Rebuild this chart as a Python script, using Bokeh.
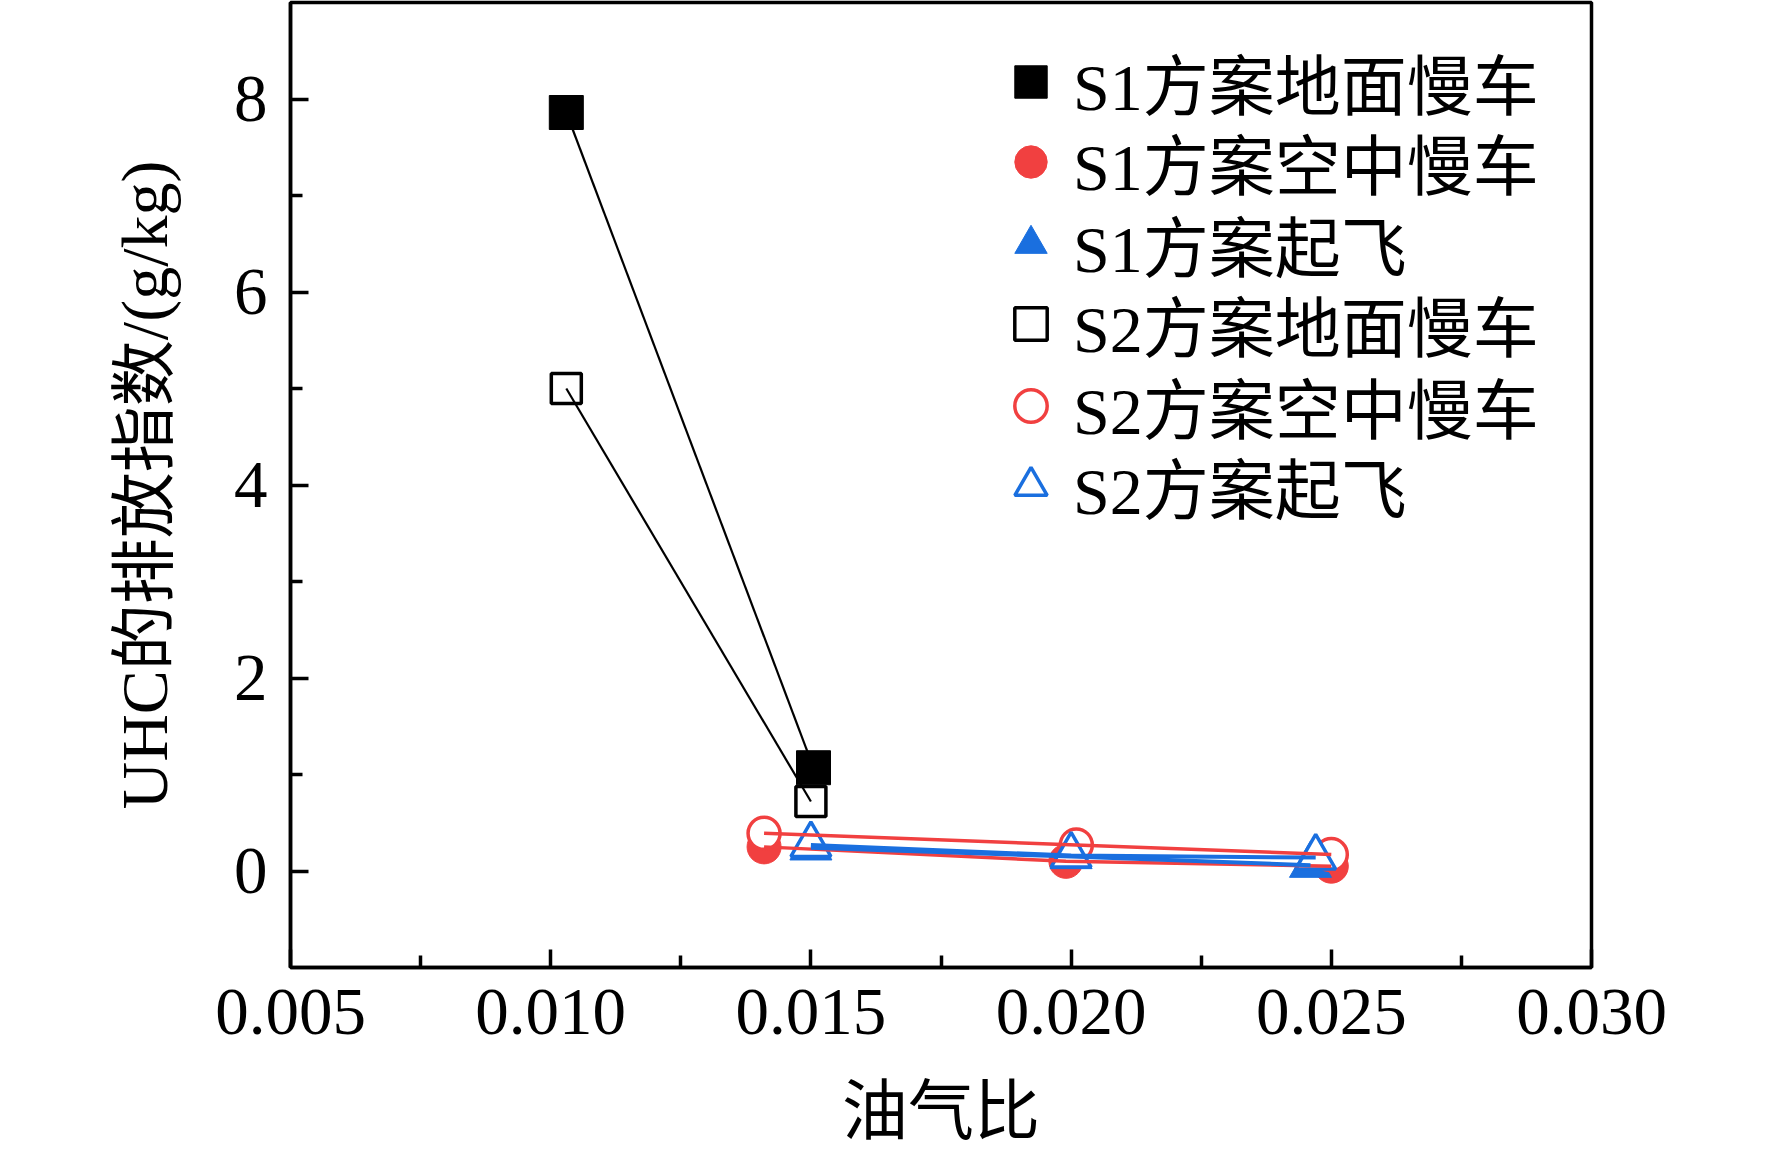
from bokeh.plotting import figure
from bokeh.models import FixedTicker, PrintfTickFormatter, Legend, LegendItem, Range1d
from bokeh.embed import file_html
from bokeh.resources import INLINE

# ---- data ----
x_ticks = [0.005, 0.010, 0.015, 0.020, 0.025, 0.030]
x_minor = [0.0075, 0.0125, 0.0175, 0.0225, 0.0275]
y_ticks = [0, 2, 4, 6, 8]
y_minor = [1, 3, 5, 7]

s1_ground_x = [0.0103, 0.01505]
s1_ground_y = [7.86, 1.07]
s1_air_x = [0.0141, 0.0199, 0.0250]
s1_air_y = [0.25, 0.10, 0.05]
s1_takeoff_x = [0.0150, 0.0200, 0.0246]
s1_takeoff_y = [0.24, 0.15, 0.06]

s2_ground_x = [0.0103, 0.0150]
s2_ground_y = [5.00, 0.72]
s2_air_x = [0.0141, 0.0201, 0.0250]
s2_air_y = [0.39, 0.27, 0.17]
s2_takeoff_x = [0.0150, 0.0200, 0.0247]
s2_takeoff_y = [0.27, 0.16, 0.14]

labels = ["S1方案地面慢车", "S1方案空中慢车", "S1方案起飞",
          "S2方案地面慢车", "S2方案空中慢车", "S2方案起飞"]
x_title = "油气比"
y_title = "UHC的排放指数/(g/kg)"

BLACK = "#000000"
RED = "#F14040"
BLUE = "#1A6FDF"
FONT = "'Liberation Serif', 'Noto Sans CJK SC'"
FS = "66px"
FS_TICK = "67px"

FRAME_W = 1301
FRAME_H = 965

p = figure(width=1756, height=1150,
           x_range=Range1d(0.005, 0.030), y_range=Range1d(-1, 9),
           output_backend="svg", toolbar_location=None,
           min_border_left=290, min_border_right=1756 - 290 - FRAME_W,
           min_border_top=2, min_border_bottom=1150 - 2 - FRAME_H)
p.grid.visible = False
p.outline_line_color = "black"
p.outline_line_width = 3.5
p.background_fill_color = "white"
p.border_fill_color = "white"

for ax in (p.xaxis[0], p.yaxis[0]):
    ax.axis_line_width = 3.5
    ax.major_tick_line_width = 3.5
    ax.minor_tick_line_width = 3.5
    ax.major_tick_in = 18
    ax.major_tick_out = 0
    ax.minor_tick_in = 12
    ax.minor_tick_out = 0
    ax.major_label_text_font = FONT
    ax.major_label_text_font_size = FS_TICK
    ax.major_label_text_color = "black"
    ax.axis_label_text_font = FONT
    ax.axis_label_text_font_size = FS
    ax.axis_label_text_font_style = "normal"
    ax.axis_label_text_color = "black"

p.xaxis.ticker = FixedTicker(ticks=x_ticks, minor_ticks=x_minor)
p.yaxis.ticker = FixedTicker(ticks=y_ticks, minor_ticks=y_minor)
p.xaxis.formatter = PrintfTickFormatter(format="%.3f")
p.yaxis.formatter = PrintfTickFormatter(format="%d")
p.xaxis.axis_label = x_title
p.yaxis.axis_label = y_title
p.xaxis.major_label_standoff = 22
p.xaxis.axis_label_standoff = 38
p.yaxis.major_label_standoff = 23
p.yaxis.axis_label_standoff = 50

# filled markers
r1 = p.scatter(s1_ground_x, s1_ground_y, marker="square", size=34,
               fill_color=BLACK, line_color=BLACK)
r2 = p.scatter(s1_air_x, s1_air_y, marker="circle", size=34,
               fill_color=RED, line_color=RED)
r3 = p.scatter(s1_takeoff_x, s1_takeoff_y, marker="triangle", size=42,
               fill_color=BLUE, line_color=BLUE)
# open markers
r4 = p.scatter(s2_ground_x, s2_ground_y, marker="square", size=30,
               fill_color="white", line_color=BLACK, line_width=3.5)
r5 = p.scatter(s2_air_x, s2_air_y, marker="circle", size=32,
               fill_color="white", line_color=RED, line_width=3.5)
r6 = p.scatter(s2_takeoff_x, s2_takeoff_y, marker="triangle", size=40,
               fill_color="white", line_color=BLUE, line_width=3.5)

# connecting lines
p.line(s1_ground_x, s1_ground_y, line_color=BLACK, line_width=2.2)
p.line(s2_ground_x, s2_ground_y, line_color=BLACK, line_width=2.2)
p.line(s1_air_x, s1_air_y, line_color=RED, line_width=3.5)
p.line(s2_air_x, s2_air_y, line_color=RED, line_width=3.5)
p.line(s1_takeoff_x, s1_takeoff_y, line_color=BLUE, line_width=4)
p.line(s2_takeoff_x, s2_takeoff_y, line_color=BLUE, line_width=4)

# legend: one single-entry legend per row, rows 81 px apart
ROW = 81
ROW_BOX = 95
renderers = [r1, r2, r3, r4, r5, r6]
for i, (lab, r) in enumerate(zip(labels, renderers)):
    row_center_from_top = 79 + ROW * i          # distance below frame top
    y_bottom = FRAME_H - row_center_from_top - ROW_BOX / 2
    lg = Legend(items=[LegendItem(label=lab, renderers=[r])],
                location=(698, int(round(y_bottom))),
                glyph_width=85, glyph_height=ROW, spacing=0,
                label_standoff=0, padding=0, margin=0,
                label_text_font=FONT, label_text_font_size=FS,
                label_text_color="black",
                background_fill_alpha=0, border_line_alpha=0)
    p.add_layout(lg, "center")

open("out.html", "w").write(file_html(p, INLINE))
